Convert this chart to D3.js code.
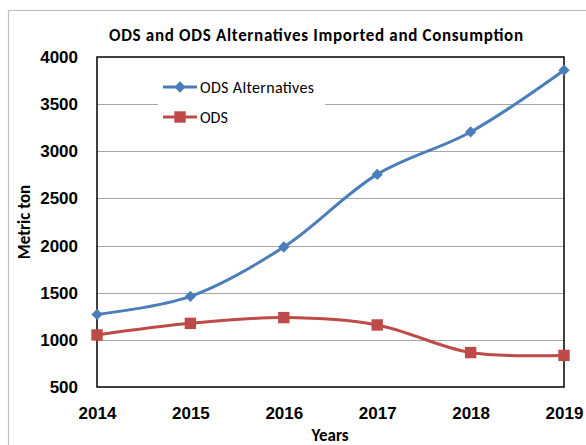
<!DOCTYPE html>
<html lang="en">
  <head>
    <meta charset="utf-8" />
    <title>ODS chart</title>
    <script src="https://d3js.org/d3.v7.min.js"></script>
    <style>
      body { margin: 0; padding: 0; background: #fff; }
      svg { font-family: Carlito, Lato, sans-serif; }
      .grid line { stroke: #a6a6a6; stroke-width: 1px; shape-rendering: crispEdges; }
      .axis text { font-weight: bold; font-size: 17px; fill: #000; }
    </style>
  </head>
  <body>
    <svg id="chart" width="586" height="445"></svg>

    <script>
      // data
      var years = ["2014", "2015", "2016", "2017", "2018", "2019"];
      var odsAlternatives = [1270, 1462, 1985, 2755, 3205, 3860];
      var ods = [1052, 1175, 1236, 1158, 865, 835];
      var yTicks = [500, 1000, 1500, 2000, 2500, 3000, 3500, 4000];

      var svg = d3.select("#chart");
      var margin = {top: 57, right: 22, bottom: 58, left: 97};
      var width = 586 - margin.left - margin.right;
      var height = 445 - margin.top - margin.bottom;

      // outer chart border (runs off right and bottom)
      svg.append("rect")
        .attr("x", 8.5).attr("y", 10.5)
        .attr("width", 600).attr("height", 460)
        .attr("fill", "none")
        .attr("stroke", "#bfbfbf")
        .attr("stroke-width", 1.2);

      var x = d3.scalePoint().domain(years).range([0, width]);
      var y = d3.scaleLinear().domain([500, 4000]).range([height, 0]);

      var g = svg.append("g")
        .attr("transform", "translate(" + margin.left + "," + margin.top + ")");

      // gridlines
      g.append("g")
        .attr("class", "grid")
        .selectAll("line")
        .data(yTicks.slice(1, -1))
        .enter().append("line")
        .attr("x1", 0).attr("x2", width)
        .attr("y1", function(d){ return Math.round(y(d)) + 0.5; })
        .attr("y2", function(d){ return Math.round(y(d)) + 0.5; });

      // legend background hides the gridline behind it
      var legend = g.append("g").attr("transform", "translate(61,18)");
      legend.append("rect")
        .attr("x", 0).attr("y", 0)
        .attr("width", 167).attr("height", 56)
        .attr("fill", "#fff");

      // plot border
      g.append("rect")
        .attr("x", 0).attr("y", 0)
        .attr("width", width).attr("height", height)
        .attr("fill", "none")
        .attr("stroke", "#000")
        .attr("stroke-width", 1.5);

      // axes
      var yAxis = g.append("g")
        .attr("class", "axis")
        .call(d3.axisLeft(y).tickValues(yTicks).tickFormat(d3.format("d")).tickSize(0).tickPadding(19));
      yAxis.select(".domain").remove();

      var xAxis = g.append("g")
        .attr("class", "axis")
        .attr("transform", "translate(0," + height + ")")
        .call(d3.axisBottom(x).tickSize(0).tickPadding(20));
      xAxis.select(".domain").remove();

      // titles
      svg.append("text")
        .attr("x", 316).attr("y", 41)
        .attr("text-anchor", "middle")
        .attr("font-weight", "bold")
        .attr("font-size", "17px")
        .attr("textLength", 414)
        .attr("lengthAdjust", "spacing")
        .text("ODS and ODS Alternatives Imported and Consumption");
      svg.append("text")
        .attr("x", 330).attr("y", 441)
        .attr("text-anchor", "middle")
        .attr("font-weight", "bold")
        .attr("font-size", "17px")
        .text("Years");
      svg.append("text")
        .attr("transform", "translate(30," + (margin.top + height / 2) + ") rotate(-90)")
        .attr("text-anchor", "middle")
        .attr("font-weight", "bold")
        .attr("font-size", "17px")
        .text("Metric ton");

      var series = [
        {name: "ODS Alternatives", values: odsAlternatives, color: "#4a7ebb", marker: d3.symbolSquare, size: 64, rot: 45, textLen: 114},
        {name: "ODS", values: ods, color: "#be4b48", marker: d3.symbolSquare, size: 130, rot: 0, textLen: null}
      ];

      var line = d3.line()
        .x(function(d, i){ return x(years[i]); })
        .y(function(d){ return y(d); })
        .curve(d3.curveCatmullRom.alpha(0.5));

      series.forEach(function(s){
        g.append("path")
          .attr("d", line(s.values))
          .attr("fill", "none")
          .attr("stroke", s.color)
          .attr("stroke-width", 3);
        g.selectAll(null)
          .data(s.values)
          .enter().append("path")
          .attr("transform", function(d, i){ return "translate(" + x(years[i]) + "," + y(d) + ") rotate(" + s.rot + ")"; })
          .attr("d", d3.symbol().type(s.marker).size(s.size))
          .attr("fill", s.color);
      });

      // legend entries
      series.forEach(function(s, i){
        var row = legend.append("g").attr("transform", "translate(0," + (12 + i * 30) + ")");
        row.append("line")
          .attr("x1", 5).attr("x2", 39)
          .attr("y1", 0).attr("y2", 0)
          .attr("stroke", s.color)
          .attr("stroke-width", 3);
        row.append("path")
          .attr("transform", "translate(22,0) rotate(" + s.rot + ")")
          .attr("d", d3.symbol().type(s.marker).size(s.size))
          .attr("fill", s.color);
        var t = row.append("text")
          .attr("x", 42).attr("y", 0)
          .attr("dy", "0.35em")
          .attr("font-size", "16px")
          .text(s.name);
        if (s.textLen) t.attr("textLength", s.textLen).attr("lengthAdjust", "spacing");
      });
    </script>
  </body>
</html>
